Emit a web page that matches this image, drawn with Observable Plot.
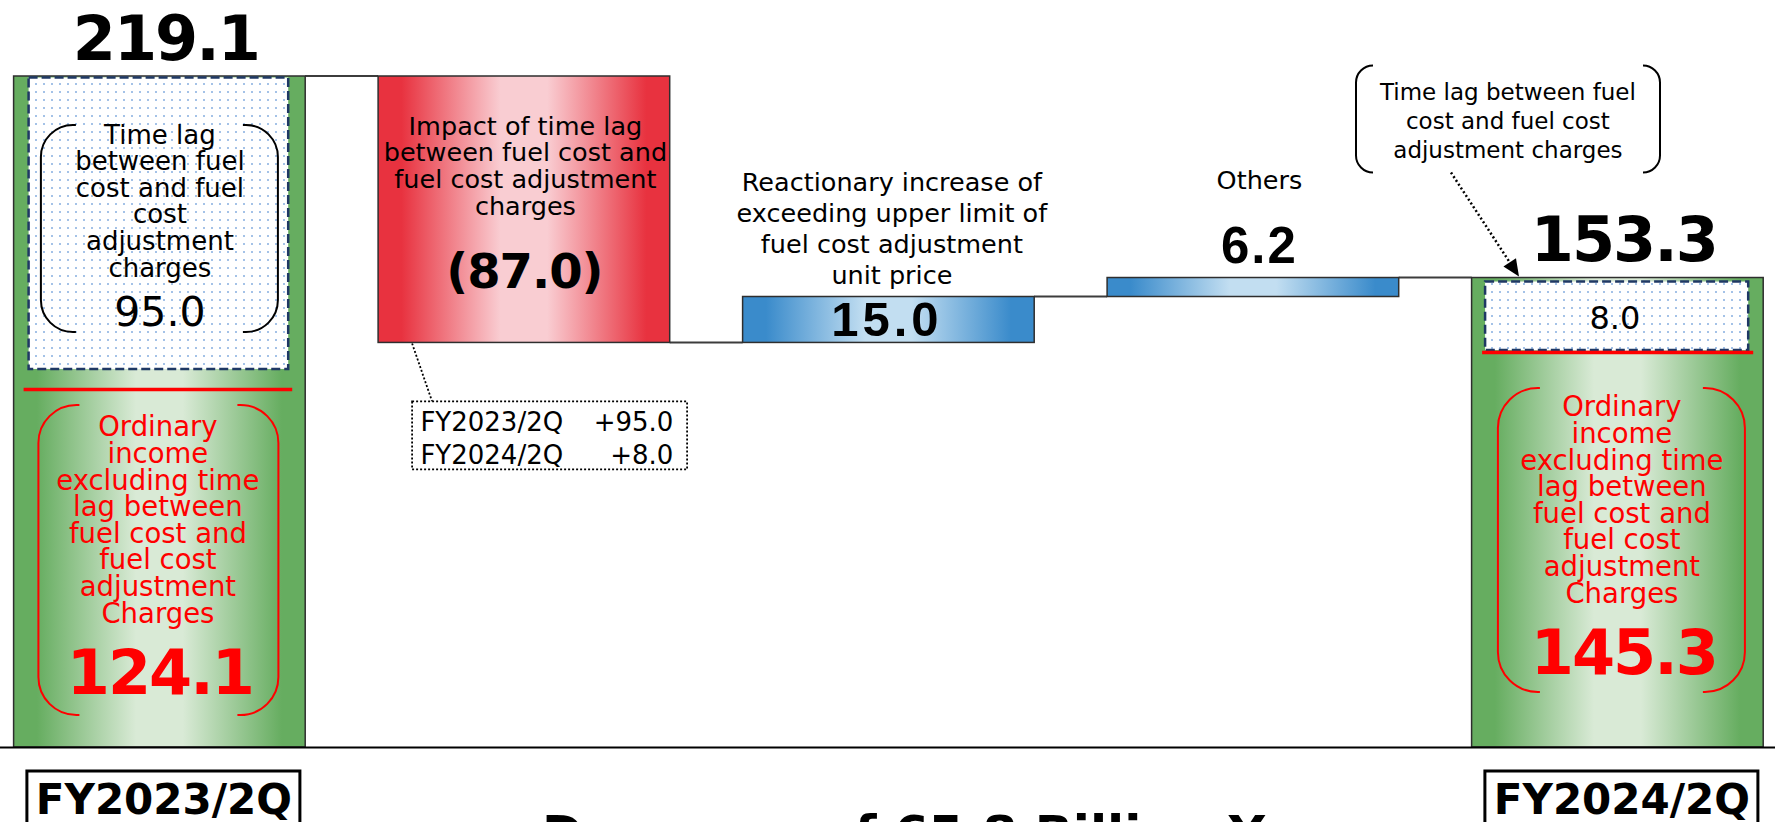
<!DOCTYPE html>
<html>
<head>
<meta charset="utf-8">
<script src="https://cdn.jsdelivr.net/npm/d3@7"></script>
<script src="https://cdn.jsdelivr.net/npm/@observablehq/plot@0.6"></script>
<style>
html, body { margin: 0; padding: 0; background: #fff; overflow: hidden; }
#chart svg { display: block; }
.tight2 text { letter-spacing: -2px; }
.tight1 text { letter-spacing: -1px; }
.wide4 text { letter-spacing: 4px; }
.wide2 text { letter-spacing: 2px; }
</style>
</head>
<body>
<div id="chart"></div>
<script>
// ---------- data ----------
const categories = ["FY2023/2Q", "Time lag impact", "Upper limit reaction", "Others", "FY2024/2Q"];
const barKinds = ["total", "decrease", "increase", "increase", "total"];
const values = [219.1, -87.0, 15.0, 6.2, 153.3];
const valueLabels = ["219.1", "(87.0)", "15.0", "6.2", "153.3"];
const stepTitles = [
  "",
  "Impact of time lag\nbetween fuel cost and\nfuel cost adjustment\ncharges",
  "Reactionary increase of\nexceeding upper limit of\nfuel cost adjustment\nunit price",
  "Others",
  ""
];
const totalPeriods = ["FY2023/2Q", "FY2024/2Q"];
const timeLagValues = [95.0, 8.0];
const timeLagLabels = ["95.0", "8.0"];
const exTimeLagValues = [124.1, 145.3];
const exTimeLagLabels = ["124.1", "145.3"];
const timeLagTitle = "Time lag\nbetween fuel\ncost and fuel\ncost\nadjustment\ncharges";
const exTimeLagTitle = "Ordinary\nincome\nexcluding time\nlag between\nfuel cost and\nfuel cost\nadjustment\nCharges";
const calloutTitle = "Time lag between fuel\ncost and fuel cost\nadjustment charges";
const noteRows = ["FY2023/2Q", "FY2024/2Q"];
const noteValues = ["+95.0", "+8.0"];
const changeTitle = "Decrease of 65.8 Billion Yen";

// ---------- derived tables ----------
let level = 0;
const bars = categories.map((cat, i) => {
  const total = barKinds[i] === "total";
  const start = total ? 0 : level;
  const end = total ? values[i] : level + values[i];
  level = end;
  return {cat, kind: barKinds[i], y1: start, y2: end, top: Math.max(start, end), bottom: Math.min(start, end),
          end, label: valueLabels[i], title: stepTitles[i]};
});
const totals = totalPeriods.map((p, i) => {
  const b = bars.find(d => d.cat === p);
  return {cat: p, top: b.top, label: b.label, lag: timeLagValues[i], lagLabel: timeLagLabels[i],
          ex: exTimeLagValues[i], exLabel: exTimeLagLabels[i], boxBottom: b.top - timeLagValues[i]};
});
const steps = bars.filter(d => d.kind !== "total");

const F = "DejaVu Sans";
const RED = "#ff0000";

// ---------- custom pieces ----------
function defsMark() {
  const g = d3.create("svg:g");
  const defs = g.append("defs");
  const grads = {
    gradGreen: ["#66ad60", "#d9ead6"],
    gradRed: ["#e8323f", "#f9cdd2"],
    gradBlue: ["#3a8bcb", "#c2def1"]
  };
  for (const [id, [edge, mid]] of Object.entries(grads)) {
    const lg = defs.append("linearGradient").attr("id", id)
      .attr("x1", 0).attr("x2", 1).attr("y1", 0).attr("y2", 0);
    [[0, edge], [0.08, edge], [0.42, mid], [0.58, mid], [0.92, edge], [1, edge]]
      .forEach(([o, c]) => lg.append("stop").attr("offset", o).attr("stop-color", c));
  }
  const p = defs.append("pattern").attr("id", "dots").attr("patternUnits", "userSpaceOnUse")
    .attr("width", 8).attr("height", 8);
  p.append("rect").attr("width", 8).attr("height", 8).attr("fill", "#fff");
  p.append("circle").attr("cx", 4).attr("cy", 4).attr("r", 1).attr("fill", "#86aee0");
  return g.node();
}

function bandInfo(s) {
  const bw = typeof s.x.bandwidth === "function" ? s.x.bandwidth()
    : (s.x(categories[1]) - s.x(categories[0])) * 0.8;
  return {
    L: c => s.x(c),
    R: c => s.x(c) + bw,
    C: c => s.x(c) + bw / 2
  };
}

function bracket(g, x0, x1, y0, y1, r, hook, color, w) {
  const d = `M${x0 + hook},${y0}H${x0 + r}A${r},${r} 0 0 0 ${x0},${y0 + r}V${y1 - r}A${r},${r} 0 0 0 ${x0 + r},${y1}H${x0 + hook}` +
            `M${x1 - hook},${y0}H${x1 - r}A${r},${r} 0 0 1 ${x1},${y0 + r}V${y1 - r}A${r},${r} 0 0 1 ${x1 - r},${y1}H${x1 - hook}`;
  g.append("path").attr("d", d).attr("fill", "none").attr("stroke", color).attr("stroke-width", w);
}

function connectorsMark(index, s) {
  const g = d3.create("svg:g");
  const {L, R} = bandInfo(s);
  for (let i = 0; i < bars.length - 1; i++) {
    const y = s.y(bars[i].end);
    g.append("line").attr("x1", R(bars[i].cat)).attr("x2", L(bars[i + 1].cat))
      .attr("y1", y).attr("y2", y).attr("stroke", "#3c3c3c").attr("stroke-width", 2);
  }
  return g.node();
}

function decorationsMark(index, s) {
  const g = d3.create("svg:g");
  const {L, R, C} = bandInfo(s);
  const B = s.y(0);
  // first total bar
  {
    const c = totals[0].cat, cx = C(c), T = s.y(totals[0].top);
    bracket(g, cx - 118.5, cx + 118.5, T + 49, T + 256, 32, 35, "#000", 2);
    bracket(g, cx - 121, cx + 119, B - 342, B - 32, 38, 41, RED, 2);
  }
  // last total bar
  {
    const c = totals[1].cat, cx = C(c), lx = L(c), T = s.y(totals[1].top);
    bracket(g, cx - 119.5, cx + 127.5, B - 359, B - 55, 40, 42, RED, 2);
    bracket(g, lx - 115.6, lx + 188.4, T - 212, T - 105, 17, 17, "#000", 2);
    const ax0 = lx - 20.6, ay0 = T - 105, ax1 = lx + 47.4, ay1 = T - 1;
    const len = Math.hypot(ax1 - ax0, ay1 - ay0), ux = (ax1 - ax0) / len, uy = (ay1 - ay0) / len;
    const hl = 17, hw = 7.5;
    const bx = ax1 - ux * hl, by = ay1 - uy * hl;
    g.append("line").attr("x1", ax0).attr("y1", ay0).attr("x2", bx).attr("y2", by)
      .attr("stroke", "#000").attr("stroke-width", 2.5).attr("stroke-dasharray", "2 2.5");
    g.append("path").attr("d", `M${ax1},${ay1}L${bx - uy * hw},${by + ux * hw}L${bx + uy * hw},${by - ux * hw}Z`)
      .attr("fill", "#000");
  }
  // note box under the decrease bar
  {
    const c = steps[0].cat, lx = L(c), Bb = s.y(steps[0].bottom);
    g.append("line").attr("x1", lx + 34).attr("y1", Bb + 1).attr("x2", lx + 54).attr("y2", Bb + 59)
      .attr("stroke", "#000").attr("stroke-width", 1.8).attr("stroke-dasharray", "2 2");
    g.append("rect").attr("x", lx + 34).attr("y", Bb + 59).attr("width", 275).attr("height", 68)
      .attr("fill", "#fff").attr("stroke", "#000").attr("stroke-width", 1.8).attr("stroke-dasharray", "2 2");
  }
  // period label boxes
  for (const t of totals) {
    const cx = C(t.cat) + 4;
    g.append("rect").attr("x", cx - 136.5).attr("y", B + 24).attr("width", 273).attr("height", 75)
      .attr("fill", "#fff").attr("stroke", "#000").attr("stroke-width", 3);
  }
  return g.node();
}

// ---------- plot ----------
const chart = Plot.plot({
  width: 1775,
  height: 822,
  margin: 0,
  x: {type: "band", domain: categories, range: [13.6, 1763.2], paddingInner: 0.2, paddingOuter: 0, align: 0.5, round: false, axis: null},
  y: {domain: [0, 219.1], range: [747, 76], axis: null},
  style: {background: "#fff", fontFamily: F},
  marks: [
    defsMark,
    connectorsMark,
    Plot.barY(bars.filter(d => d.kind === "total"), {x: "cat", y1: "y1", y2: "y2", fill: "url(#gradGreen)", stroke: "#2e2e2e", strokeWidth: 1.5}),
    Plot.barY(bars.filter(d => d.kind === "decrease"), {x: "cat", y1: "y1", y2: "y2", fill: "url(#gradRed)", stroke: "#2e2e2e", strokeWidth: 1.5}),
    Plot.barY(bars.filter(d => d.kind === "increase"), {x: "cat", y1: "y1", y2: "y2", fill: "url(#gradBlue)", stroke: "#2e2e2e", strokeWidth: 1.5}),
    // time lag boxes
    Plot.barY([totals[0]], {x: "cat", y1: "boxBottom", y2: "top", fill: "url(#dots)", stroke: "#1f3864", strokeWidth: 2.5, strokeDasharray: "9 4", insetLeft: 15, insetRight: 17, insetTop: 1.5, insetBottom: -2}),
    Plot.barY([totals[1]], {x: "cat", y1: "boxBottom", y2: "top", fill: "url(#dots)", stroke: "#1f3864", strokeWidth: 2.5, strokeDasharray: "9 4", insetLeft: 13.5, insetRight: 15, insetTop: 4, insetBottom: -48}),
    // red separator lines
    Plot.tickY([totals[0]], {x: "cat", y: "boxBottom", dy: 22, stroke: RED, strokeWidth: 3.5, insetLeft: 10, insetRight: 13}),
    Plot.tickY([totals[1]], {x: "cat", y: "boxBottom", dy: 50, stroke: RED, strokeWidth: 3.5, insetLeft: 10.5, insetRight: 10}),
    decorationsMark,
    // baseline
    Plot.ruleY([0], {stroke: "#000", strokeWidth: 2}),
    // total values above bars
    Plot.text(totals, {x: "cat", y: "top", text: "label", dx: 6, dy: -17, lineAnchor: "bottom", fontSize: 62, fontWeight: "bold", fontFamily: F, fill: "#000", className: "tight2"}),
    // time lag texts
    Plot.text([totals[0]], {x: "cat", y: "top", text: () => timeLagTitle, dy: 200, lineAnchor: "bottom", lineHeight: 1.023, fontSize: 26, fontFamily: F, fill: "#000"}),
    Plot.text([totals[0]], {x: "cat", y: "top", text: "lagLabel", dy: 249, lineAnchor: "bottom", fontSize: 41, fontFamily: F, fill: "#000"}),
    Plot.text([totals[1]], {x: "cat", y: "top", text: "lagLabel", dx: -3, dy: 51, lineAnchor: "bottom", fontSize: 32, fontFamily: F, fill: "#000"}),
    // ordinary income excl. time lag
    Plot.text([totals[0]], {x: "cat", y: () => 0, text: () => exTimeLagTitle, dx: -2, dy: -125, lineAnchor: "bottom", lineHeight: 0.967, fontSize: 27.5, fontFamily: F, fill: RED}),
    Plot.text([totals[0]], {x: "cat", y: () => 0, text: "exLabel", dx: 0, dy: -54, lineAnchor: "bottom", fontSize: 62, fontWeight: "bold", fontFamily: F, fill: RED, className: "tight2"}),
    Plot.text([totals[1]], {x: "cat", y: () => 0, text: () => exTimeLagTitle, dx: 4, dy: -145, lineAnchor: "bottom", lineHeight: 0.967, fontSize: 27.5, fontFamily: F, fill: RED}),
    Plot.text([totals[1]], {x: "cat", y: () => 0, text: "exLabel", dx: 6, dy: -74, lineAnchor: "bottom", fontSize: 62, fontWeight: "bold", fontFamily: F, fill: RED, className: "tight2"}),
    // callout over last bar
    Plot.text([totals[1]], {x: "cat", y: "top", text: () => calloutTitle, dx: -110, dy: -120, lineAnchor: "bottom", lineHeight: 1.26, fontSize: 23, fontFamily: F, fill: "#000"}),
    // step titles and values
    Plot.text([steps[0]], {x: "cat", y: "top", text: "title", dx: 1, dy: 138, lineAnchor: "bottom", lineHeight: 1.04, fontSize: 25.5, fontFamily: F, fill: "#000"}),
    Plot.text([steps[0]], {x: "cat", y: "top", text: "label", dy: 211, lineAnchor: "bottom", fontSize: 48, fontWeight: "bold", fontFamily: F, fill: "#000", className: "tight1"}),
    Plot.text([steps[1]], {x: "cat", y: "top", text: "title", dx: 3, dy: -13, lineAnchor: "bottom", lineHeight: 1.22, fontSize: 25.5, fontFamily: F, fill: "#000"}),
    Plot.text([steps[1]], {x: "cat", y: d => (d.y1 + d.y2) / 2, text: "label", dx: -2, lineAnchor: "middle", fontSize: 49, fontWeight: "bold", fontFamily: "Liberation Sans", fill: "#000", className: "wide4"}),
    Plot.text([steps[2]], {x: "cat", y: "top", text: "title", dx: 6, dy: -89, lineAnchor: "bottom", fontSize: 25.5, fontFamily: F, fill: "#000"}),
    Plot.text([steps[2]], {x: "cat", y: "top", text: "label", dx: 6, dy: -15, lineAnchor: "bottom", fontSize: 51, fontWeight: "bold", fontFamily: "Liberation Sans", fill: "#000", className: "wide2"}),
    // note box rows
    Plot.text([steps[0]], {x: "cat", y: "bottom", text: () => noteRows.join("\n"), dx: -104, dy: 121, textAnchor: "start", lineAnchor: "bottom", lineHeight: 1.27, fontSize: 26, fontFamily: F, fill: "#000"}),
    Plot.text([steps[0]], {x: "cat", y: "bottom", text: () => noteValues.join("\n"), dx: 149, dy: 121, textAnchor: "end", lineAnchor: "bottom", lineHeight: 1.27, fontSize: 26, fontFamily: F, fill: "#000"}),
    // period labels
    Plot.text(totals, {x: "cat", y: () => 0, text: "cat", dx: 4, dy: 66, lineAnchor: "bottom", fontSize: 42, fontWeight: "bold", fontFamily: F, fill: "#000"}),
    // change title (cut off at the bottom of the frame)
    Plot.text([{cat: categories[2], t: changeTitle}], {x: "cat", y: () => 0, text: "t", dx: 47, dy: 103, lineAnchor: "bottom", fontSize: 50, fontWeight: "bold", fontFamily: F, fill: "#000"})
  ]
});
document.getElementById("chart").appendChild(chart);
</script>
</body>
</html>
